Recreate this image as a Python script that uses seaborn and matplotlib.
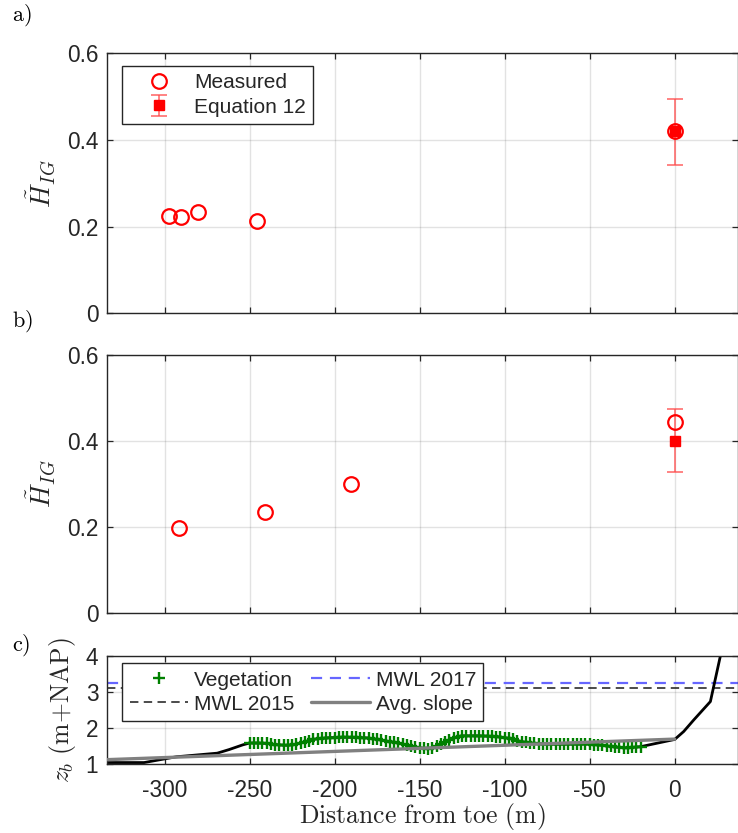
import numpy as np
import matplotlib
matplotlib.use('Agg')
import matplotlib.pyplot as plt
import seaborn as sns

# ---------------- data ----------------
xticks = [-300, -250, -200, -150, -100, -50, 0]
xlim = (-334, 37)

a_meas_x = [-297.6, -290.2, -280.6, -245.6, 0.0]
a_meas_y = [0.224, 0.223, 0.234, 0.212, 0.420]
a_eq_x = [0.0]
a_eq_y = [0.421]
a_eq_lo = [0.343]
a_eq_hi = [0.495]

b_meas_x = [-291.4, -241.2, -190.4, 0.0]
b_meas_y = [0.197, 0.236, 0.300, 0.444]
b_eq_x = [0.0]
b_eq_y = [0.401]
b_eq_lo = [0.328]
b_eq_hi = [0.474]

prof_x_left = [-334, -312, -293, -269, -262, -254]
prof_z_left = [1.04, 1.04, 1.20, 1.30, 1.40, 1.53]
veg_x = np.arange(-250, -17.5, 2.5)
veg_z = [1.58, 1.58, 1.58, 1.575, 1.57, 1.555, 1.54, 1.53, 1.52, 1.52,
         1.53, 1.55, 1.58, 1.62, 1.65, 1.68, 1.70, 1.71, 1.72, 1.73,
         1.73, 1.74, 1.74, 1.74, 1.74, 1.735, 1.73, 1.725, 1.72, 1.70,
         1.68, 1.66, 1.64, 1.62, 1.60, 1.575, 1.55, 1.525, 1.50, 1.475,
         1.45, 1.43, 1.42, 1.45, 1.50, 1.56, 1.62, 1.67, 1.72, 1.76,
         1.78, 1.78, 1.78, 1.78, 1.78, 1.775, 1.77, 1.765, 1.76, 1.745,
         1.73, 1.71, 1.68, 1.65, 1.62, 1.60, 1.58, 1.57, 1.56, 1.555,
         1.55, 1.55, 1.55, 1.55, 1.55, 1.55, 1.55, 1.55, 1.55, 1.55,
         1.55, 1.54, 1.53, 1.515, 1.50, 1.485, 1.47, 1.46, 1.45, 1.45,
         1.46, 1.47, 1.48]
prof_x_right = [0.0, 5.3, 11.2, 21.0, 27.0, 30.0]
prof_z_right = [1.68, 1.90, 2.22, 2.73, 4.02, 4.6]

slope_x = [-334, 0]
slope_z = [1.12, 1.69]

mwl_2017 = 3.235
mwl_2015 = 3.11

# ---------------- style ----------------
sns.set_theme(style='white')
plt.rcParams['font.family'] = ['Liberation Sans', 'DejaVu Sans']
plt.rcParams['mathtext.fontset'] = 'cm'
plt.rcParams['axes.unicode_minus'] = False

fig = plt.figure(figsize=(7.38, 8.33), dpi=100)
W, H = 738.0, 833.0
left = 106.7 / W
width = (737.6 - 106.7) / W


def ax_rect(top_px, bot_px):
    return [left, 1 - bot_px / H, width, (bot_px - top_px) / H]


axA = fig.add_axes(ax_rect(53.3, 313.3))
axB = fig.add_axes(ax_rect(355.0, 613.3))
axC = fig.add_axes(ax_rect(655.7, 764.0))

dark = (0.15, 0.15, 0.15)
tick_fs = 16.3
leg_fs = 15
lab_fs = 18.5


def style_axes(ax, show_xlabels):
    ax.set_xlim(*xlim)
    ax.set_xticks(xticks)
    if not show_xlabels:
        ax.set_xticklabels([])
    ax.grid(True, color=(0.15, 0.15, 0.15), alpha=0.13, linewidth=1.0)
    ax.set_axisbelow(True)
    for s in ax.spines.values():
        s.set_visible(True)
        s.set_color(dark)
        s.set_linewidth(1.0)
    ax.tick_params(direction='in', length=4.5, width=0.9, color=dark,
                   labelcolor=dark, labelsize=tick_fs,
                   top=True, right=True, bottom=True, left=True)
    ax.tick_params(axis='x', pad=11)
    ax.tick_params(axis='y', pad=6)


def hig_panel(ax, mx, my, ex, ey, elo, ehi, legend):
    eb = ax.errorbar(ex, ey,
                     yerr=[np.array(ey) - np.array(elo), np.array(ehi) - np.array(ey)],
                     fmt='s', color='red', ecolor=(1, 0.3, 0.3, 0.75),
                     markersize=7, elinewidth=1.3, capsize=6, capthick=1.3,
                     label='Equation 12', zorder=3)
    sns.lineplot(x=mx, y=my, ax=ax, marker='o', linestyle='', markersize=10.5,
                 markerfacecolor='none', markeredgecolor='red', markeredgewidth=1.6,
                 color='red', label='Measured', sort=False, estimator=None,
                 legend=False, zorder=4)
    ax.set_ylim(0, 0.6)
    ax.set_yticks([0, 0.2, 0.4, 0.6])
    ax.set_yticklabels(['0', '0.2', '0.4', '0.6'])
    ax.set_xlabel('')
    ax.set_ylabel(r'$\tilde{H}_{IG}$', fontsize=lab_fs + 1, color=dark)
    ax.yaxis.set_label_coords(-0.078, 0.5)
    if legend:
        h = [ax.get_lines()[-1], eb]
        lg = ax.legend(h, ['Measured', 'Equation 12'], loc='upper left',
                       bbox_to_anchor=(0.0247, 0.951), borderaxespad=0,
                       fontsize=leg_fs, fancybox=False, framealpha=1,
                       edgecolor=dark, handlelength=2.8, handletextpad=0.3,
                       labelspacing=0.25, borderpad=0.35)
        lg.get_frame().set_linewidth(1.0)


style_axes(axA, False)
style_axes(axB, False)
style_axes(axC, True)

hig_panel(axA, a_meas_x, a_meas_y, a_eq_x, a_eq_y, a_eq_lo, a_eq_hi, True)
hig_panel(axB, b_meas_x, b_meas_y, b_eq_x, b_eq_y, b_eq_lo, b_eq_hi, False)

# ---------------- panel c ----------------
prof_x = list(prof_x_left) + list(veg_x) + list(prof_x_right)
prof_z = list(prof_z_left) + list(veg_z) + list(prof_z_right)

green = (0, 0.5, 0)
l2017 = axC.axhline(mwl_2017, color=(0.4, 0.4, 1.0), linestyle=(0, (5, 3.5)),
                    linewidth=1.6, label='MWL 2017')
l2015 = axC.axhline(mwl_2015, color=(0.1, 0.1, 0.1), linestyle=(0, (5.5, 3.5)),
                    linewidth=1.1, label='MWL 2015')
sns.lineplot(x=prof_x, y=prof_z, ax=axC, color='black', linewidth=2.0,
             sort=False, estimator=None, legend=False, zorder=2)
sns.lineplot(x=list(veg_x), y=veg_z, ax=axC, marker='+', linestyle='',
             markersize=8.5, markeredgewidth=1.7, color=green,
             markeredgecolor=green, markerfacecolor=green,
             sort=False, estimator=None, legend=False, zorder=3)
veg_line = axC.get_lines()[-1]
sns.lineplot(x=slope_x, y=slope_z, ax=axC, color=(0.5, 0.5, 0.5), linewidth=2.4,
             sort=False, estimator=None, legend=False, zorder=4)
slope_line = axC.get_lines()[-1]

axC.set_ylim(1, 4)
axC.set_yticks([1, 2, 3, 4])
axC.set_xlabel(r'$\mathrm{Distance\ from\ toe\ (m)}$', fontsize=lab_fs, color=dark,
               labelpad=-1)
axC.set_ylabel(r'$z_b\ \mathrm{(m{+}NAP)}$', fontsize=lab_fs, color=dark)
axC.yaxis.set_label_coords(-0.046, 0.5)

lgc = axC.legend([veg_line, l2015, l2017, slope_line],
                 ['Vegetation', 'MWL 2015', 'MWL 2017', 'Avg. slope'],
                 ncol=2, loc='upper left', bbox_to_anchor=(0.0247, 0.93),
                 borderaxespad=0, fontsize=leg_fs, fancybox=False, framealpha=1,
                 edgecolor=dark, handlelength=2.8, handletextpad=0.3,
                 labelspacing=0.25, borderpad=0.35, columnspacing=0.8)
lgc.get_frame().set_linewidth(1.0)

# panel letters
for lab, ypx in [('a)', 15), ('b)', 321), ('c)', 645)]:
    fig.text(12 / W, 1 - ypx / H, r'$\mathrm{' + lab + '}$', fontsize=16,
             ha='left', va='center', color='black')

fig.savefig('out.png', dpi=100)
